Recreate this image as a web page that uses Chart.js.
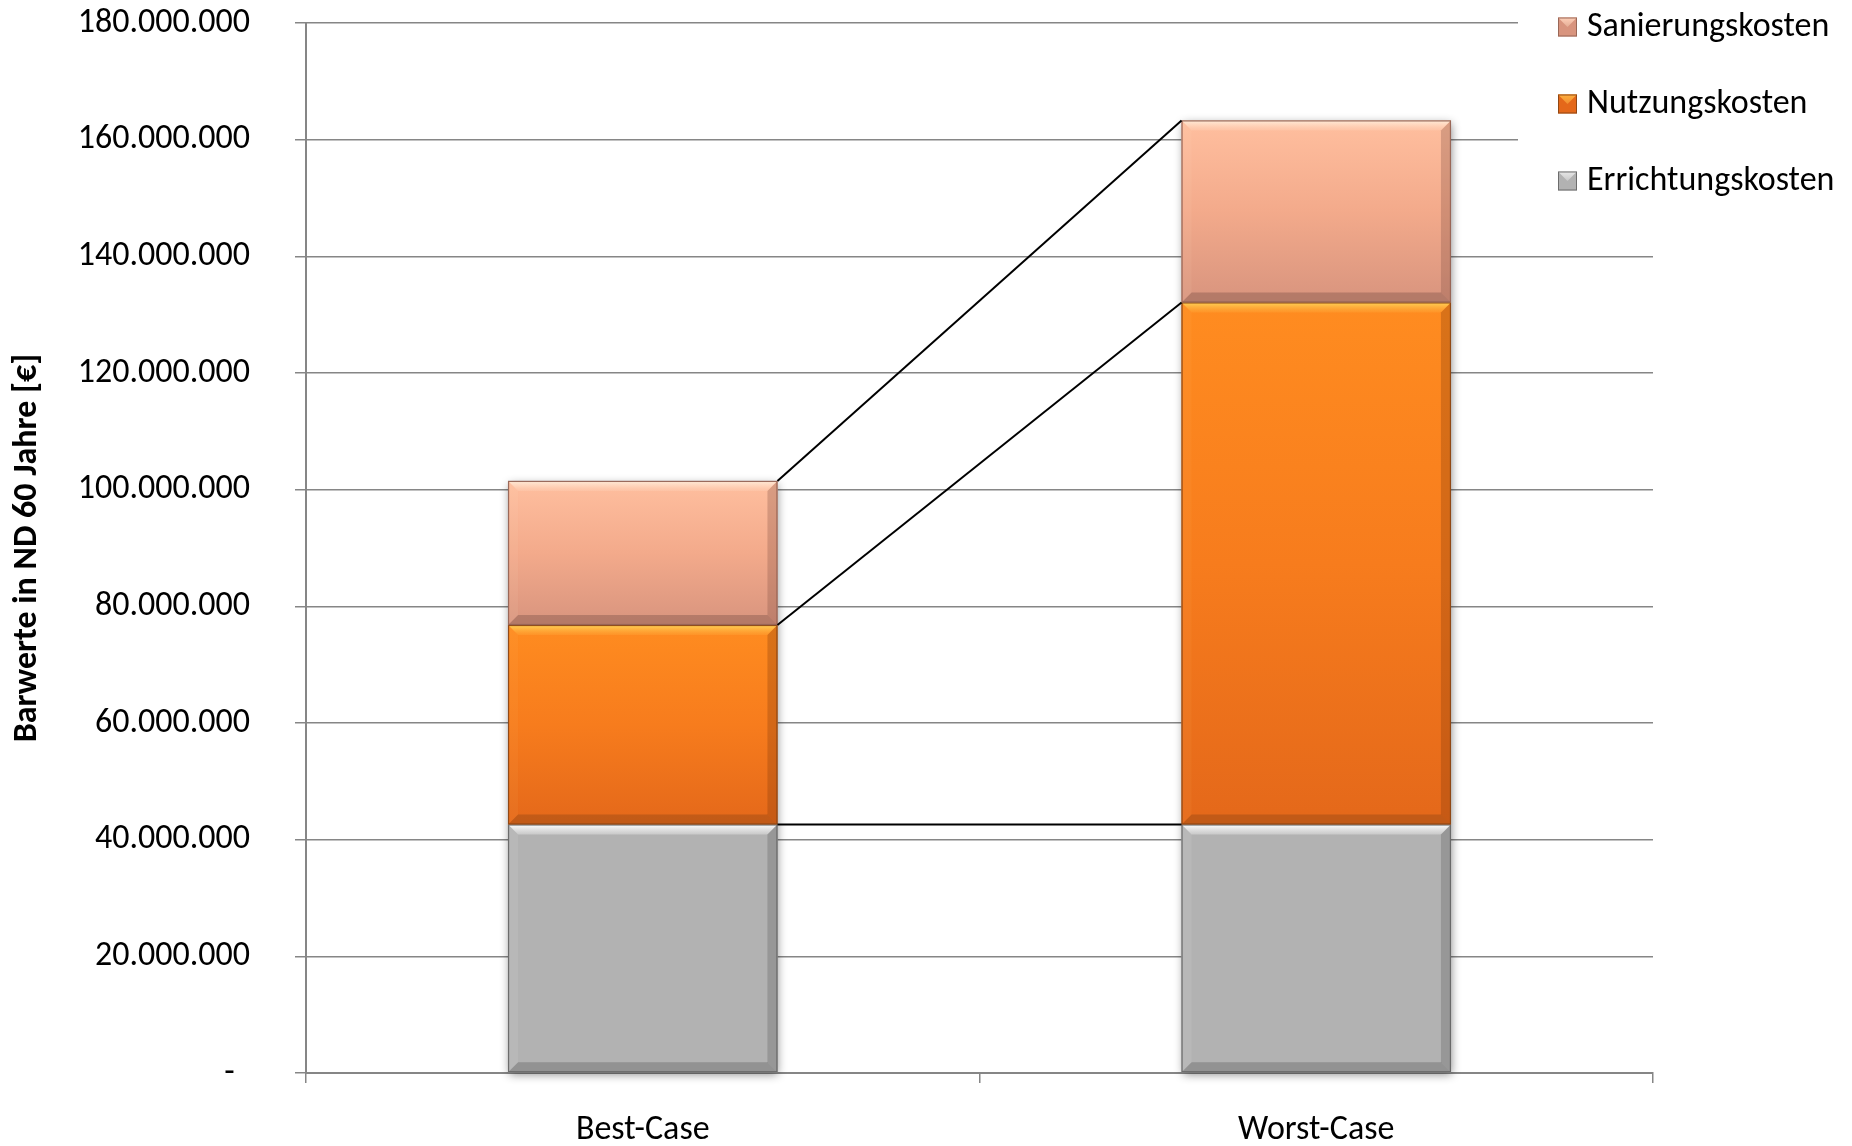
<!DOCTYPE html>
<html>
<head>
<meta charset="utf-8">
<script src="https://cdn.jsdelivr.net/npm/chart.js@4.4.1/dist/chart.umd.min.js"></script>
<style>
  html, body { margin: 0; padding: 0; background: #ffffff; }
  #wrap { width: 1852px; height: 1146px; }
</style>
</head>
<body>
<div id="wrap"><canvas id="c" width="1852" height="1146"></canvas></div>
<script>
// Barwerte über die Nutzungsdauer (60 Jahre), gestapelt nach Kostenart
const categories = ['Best-Case', 'Worst-Case'];
const errichtungskosten = [42600000, 42600000];
const nutzungskosten = [34200000, 89500000];
const sanierungskosten = [24700000, 31200000];
const seriesNames = ['Errichtungskosten', 'Nutzungskosten', 'Sanierungskosten'];
const yMin = 0, yMax = 180000000, yStep = 20000000;
const yTitle = 'Barwerte in ND 60 Jahre [€]';

const FONT = 'Carlito, Calibri, Lato, sans-serif';
const FONT_SIZE = 34;
const AXIS_GREY = '#868686';

function formatDE(v) {
  if (v === 0) return '-\u00A0\u00A0';
  return String(Math.round(v)).replace(/\B(?=(\d{3})+(?!\d))/g, '.');
}

// vertical gradient spanning one stacked segment
function segmentGradient(stops) {
  return (ctx) => {
    const chart = ctx.chart;
    const y = chart.scales && chart.scales.y;
    if (!y || ctx.type !== 'data') return stops[0];
    const di = ctx.datasetIndex, i = ctx.dataIndex;
    let lo = 0;
    for (let d = 0; d < di; d++) lo += chart.data.datasets[d].data[i];
    const hi = lo + chart.data.datasets[di].data[i];
    const yTop = y.getPixelForValue(hi), yBot = y.getPixelForValue(lo);
    if (!isFinite(yTop) || !isFinite(yBot) || yTop === yBot) return stops[0];
    const g = chart.ctx.createLinearGradient(0, yTop, 0, yBot);
    stops.forEach((c, k) => g.addColorStop(k / (stops.length - 1), c));
    return g;
  };
}

const fills = [
  ['#b2b2b2', '#b2b2b2'],
  ['#ff8c20', '#f77c1d', '#e4681a'],
  ['#ffbf9f', '#f3aa8b', '#d8947e']
];
const legendFills = [
  ['#e8e8e8', '#a8a8a8'],
  ['#ffb040', '#e06a1c'],
  ['#ffd0b8', '#c98a74']
];
const bevel = [
  { hi: 'rgba(255,255,255,1)', hi2: 'rgba(235,235,235,0.4)', lo: 'rgba(120,120,120,0.55)', l: 'rgba(255,255,255,0.08)', r: 'rgba(90,90,90,0.3)', edge: 'rgba(100,100,100,0.9)' },
  { hi: 'rgba(255,215,90,0.95)', hi2: 'rgba(255,170,60,0.3)', lo: 'rgba(160,75,20,0.5)', l: 'rgba(255,190,110,0.08)', r: 'rgba(130,55,10,0.3)', edge: 'rgba(140,70,20,0.95)' },
  { hi: 'rgba(255,240,222,0.95)', hi2: 'rgba(255,210,185,0.3)', lo: 'rgba(150,100,85,0.55)', l: 'rgba(255,225,205,0.08)', r: 'rgba(130,80,65,0.3)', edge: 'rgba(150,100,85,0.95)' }
];

function poly(ctx, pts, fill) {
  ctx.beginPath();
  ctx.moveTo(pts[0][0], pts[0][1]);
  for (let k = 1; k < pts.length; k++) ctx.lineTo(pts[k][0], pts[k][1]);
  ctx.closePath();
  ctx.fillStyle = fill;
  ctx.fill();
}

// soft drop shadow behind each stacked column
const columnShadow = {
  id: 'columnShadow',
  beforeDatasetsDraw(chart) {
    const ctx = chart.ctx;
    const metas = chart.getSortedVisibleDatasetMetas();
    if (!metas.length) return;
    const n = metas[0].data.length;
    for (let i = 0; i < n; i++) {
      let top = Infinity, bottom = -Infinity, x = 0, w = 0;
      metas.forEach(m => {
        const el = m.data[i];
        top = Math.min(top, el.y, el.base);
        bottom = Math.max(bottom, el.y, el.base);
        x = el.x; w = el.width;
      });
      ctx.save();
      ctx.shadowColor = 'rgba(0,0,0,0.45)';
      ctx.shadowBlur = 9;
      ctx.shadowOffsetX = 1;
      ctx.shadowOffsetY = 3;
      ctx.fillStyle = '#b0b0b0';
      ctx.fillRect(x - w / 2, top, w, bottom - top);
      ctx.restore();
    }
  }
};

// bevelled edges on each bar segment and series lines between the columns
const bevelAndSeriesLines = {
  id: 'bevelAndSeriesLines',
  afterDatasetsDraw(chart) {
    const ctx = chart.ctx;
    const metas = chart.getSortedVisibleDatasetMetas();
    metas.forEach(m => {
      const st = bevel[m.index];
      m.data.forEach(el => {
        const L = el.x - el.width / 2, R = el.x + el.width / 2;
        const T = Math.min(el.y, el.base), B = Math.max(el.y, el.base);
        const b = Math.min(10, (B - T) / 2);
        ctx.save();
        const gt = ctx.createLinearGradient(0, T, 0, T + b);
        gt.addColorStop(0, st.hi);
        gt.addColorStop(1, st.hi2);
        poly(ctx, [[L, T], [R, T], [R - b, T + b], [L + b, T + b]], gt);
        poly(ctx, [[L, B], [R, B], [R - b, B - b], [L + b, B - b]], st.lo);
        poly(ctx, [[L, T], [L + b, T + b], [L + b, B - b], [L, B]], st.l);
        poly(ctx, [[R, T], [R - b, T + b], [R - b, B - b], [R, B]], st.r);
        ctx.strokeStyle = st.edge;
        ctx.lineWidth = 1.2;
        ctx.strokeRect(L + 0.5, T + 0.5, R - L - 1, B - T - 1);
        ctx.restore();
      });
    });
    // series lines from the right edge of the first column to the left edge of the second
    ctx.save();
    ctx.strokeStyle = '#000000';
    ctx.lineWidth = 2;
    metas.forEach(m => {
      const a = m.data[0], c = m.data[1];
      if (!a || !c) return;
      ctx.beginPath();
      ctx.moveTo(a.x + a.width / 2, a.y);
      ctx.lineTo(c.x - c.width / 2, c.y);
      ctx.stroke();
    });
    ctx.restore();
  }
};

// legend in the upper right corner, drawn over the grid
const cornerLegend = {
  id: 'cornerLegend',
  afterDraw(chart) {
    const ctx = chart.ctx;
    ctx.save();
    ctx.fillStyle = '#ffffff';
    ctx.fillRect(1518, 0, 334, 212);
    const items = chart.data.datasets.map((d, i) => ({ label: d.label, i })).reverse();
    const boxX = 1558, box = 19, textX = 1587, y0 = 27, dy = 77;
    ctx.font = FONT_SIZE + 'px ' + FONT;
    ctx.textBaseline = 'middle';
    ctx.textAlign = 'left';
    items.forEach((it, k) => {
      const cy = y0 + k * dy;
      const top = cy - box / 2;
      const g = ctx.createLinearGradient(0, top, 0, top + box);
      g.addColorStop(0, legendFills[it.i][0]);
      g.addColorStop(1, legendFills[it.i][1]);
      ctx.fillStyle = fills[it.i][fills[it.i].length - 1];
      ctx.fillRect(boxX, top, box, box);
      // small bevel: lighter upper triangle
      poly(ctx, [[boxX, top], [boxX + box, top], [boxX + box / 2, top + box / 2]], g);
      ctx.strokeStyle = bevel[it.i].edge;
      ctx.lineWidth = 1;
      ctx.strokeRect(boxX + 0.5, top + 0.5, box - 1, box - 1);
      ctx.fillStyle = '#000000';
      ctx.fillText(it.label, textX, cy);
    });
    ctx.restore();
  }
};

const datasets = [errichtungskosten, nutzungskosten, sanierungskosten].map((values, i) => ({
  label: seriesNames[i],
  data: values,
  backgroundColor: segmentGradient(fills[i]),
  borderWidth: 0,
  barPercentage: 0.4,
  categoryPercentage: 1.0
}));

new Chart(document.getElementById('c'), {
  type: 'bar',
  data: { labels: categories, datasets },
  plugins: [columnShadow, bevelAndSeriesLines, cornerLegend],
  options: {
    responsive: false,
    animation: false,
    devicePixelRatio: 1,
    layout: { padding: { top: 23, right: 199, bottom: 0, left: 0 } },
    plugins: { legend: { display: false }, tooltip: { enabled: false } },
    scales: {
      x: {
        stacked: true,
        offset: true,
        border: { display: true, color: AXIS_GREY, width: 2 },
        grid: { offset: true, drawOnChartArea: false, drawTicks: true, tickLength: 10, color: AXIS_GREY, lineWidth: 1.5 },
        ticks: { color: '#000000', font: { family: FONT, size: FONT_SIZE }, padding: 27, maxRotation: 0 },
        afterFit: (s) => { s.height = 73; s.paddingLeft = 0; s.paddingRight = 0; }
      },
      y: {
        stacked: true,
        min: yMin,
        max: yMax,
        border: { display: true, color: AXIS_GREY, width: 2 },
        grid: { color: AXIS_GREY, lineWidth: 1.5, tickLength: 11, drawTicks: true },
        ticks: { stepSize: yStep, color: '#000000', font: { family: FONT, size: FONT_SIZE }, padding: 45, callback: (v) => formatDE(v) },
        title: { display: true, text: yTitle, color: '#000000', font: { family: FONT, size: FONT_SIZE, weight: 'bold' }, padding: { top: 7, bottom: 0 } },
        afterFit: (s) => { s.width = 306; s.paddingTop = 0; s.paddingBottom = 0; }
      }
    }
  }
});
</script>
</body>
</html>
